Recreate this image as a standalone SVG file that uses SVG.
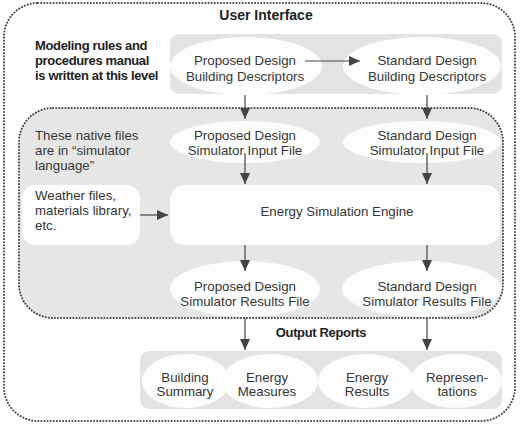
<svg xmlns="http://www.w3.org/2000/svg" width="521" height="430" viewBox="0 0 521 430">
<style>
.t{font-family:"Liberation Sans",Arial,sans-serif;font-size:13.3px;fill:#363636}
.c{text-anchor:middle}
.b{font-family:"Liberation Sans",Arial,sans-serif;font-size:13px;font-weight:bold;fill:#222;letter-spacing:-0.35px}
.dot{fill:none;stroke:#444;stroke-width:2;stroke-dasharray:0.1 3;stroke-linecap:round}
.band{fill:#e3e3e3}
.el{fill:#fdfdfd}
.box{fill:#fdfdfd}
.arr{stroke:#444;stroke-width:1.2;fill:none;marker-end:url(#ah)}
</style>
<defs>
<marker id="ah" markerUnits="userSpaceOnUse" markerWidth="12" markerHeight="10" refX="11" refY="5" orient="auto">
<path d="M0,0 L11,5 L0,10 Z" fill="#444"/>
</marker>
</defs>
<rect width="521" height="430" fill="#fff"/>
<g id="user-interface">
<rect class="dot" x="4" y="3" width="511" height="418" rx="34"/>
<text class="b c" x="266" y="20" style="font-size:14px;letter-spacing:0">User Interface</text>
</g>
<g id="simulator-area-fill">
<rect x="19" y="108" width="484" height="210" rx="34" fill="#e6e6e6"/>
</g>
<g id="top-band">
<rect class="band" x="170" y="34" width="332" height="60" rx="9"/>
</g>
<g id="output-band">
<rect class="band" x="140" y="351" width="362" height="58" rx="9"/>
</g>
<g id="modeling-note">
<text class="b" x="35" y="50">Modeling rules and</text>
<text class="b" x="35" y="65">procedures manual</text>
<text class="b" x="35" y="80">is written at this level</text>
</g>
<g id="proposed-descriptors">
<ellipse class="el" cx="246" cy="66" rx="76" ry="29"/>
<text class="t c" x="245" y="65">Proposed Design</text>
<text class="t c" x="245" y="81">Building Descriptors</text>
</g>
<g id="standard-descriptors">
<ellipse class="el" cx="422" cy="66" rx="79" ry="29"/>
<text class="t c" x="427" y="65">Standard Design</text>
<text class="t c" x="427" y="81">Building Descriptors</text>
</g>
<g id="native-note">
<text class="t" x="35" y="140">These native files</text>
<text class="t" x="35" y="155">are in “simulator</text>
<text class="t" x="35" y="170">language”</text>
</g>
<g id="proposed-input">
<ellipse class="el" cx="245" cy="142" rx="75" ry="21"/>
<text class="t c" x="245" y="140">Proposed Design</text>
<text class="t c" x="245" y="155">Simulator Input File</text>
</g>
<g id="standard-input">
<ellipse class="el" cx="422" cy="142" rx="79" ry="21"/>
<text class="t c" x="427" y="140">Standard Design</text>
<text class="t c" x="427" y="155">Simulator Input File</text>
</g>
<g id="weather">
<rect class="box" x="22" y="185" width="118" height="60" rx="13"/>
<text class="t" x="35" y="200">Weather files,</text>
<text class="t" x="35" y="215">materials library,</text>
<text class="t" x="35" y="230">etc.</text>
</g>
<g id="engine">
<rect class="box" x="170" y="185" width="330" height="60" rx="15"/>
<text class="t c" x="337" y="216">Energy Simulation Engine</text>
</g>
<g id="proposed-results">
<ellipse class="el" cx="245" cy="289" rx="75" ry="28"/>
<text class="t c" x="245" y="291">Proposed Design</text>
<text class="t c" x="245" y="306">Simulator Results File</text>
</g>
<g id="standard-results">
<ellipse class="el" cx="422" cy="289" rx="80" ry="28"/>
<text class="t c" x="427" y="291">Standard Design</text>
<text class="t c" x="427" y="306">Simulator Results File</text>
</g>
<g id="simulator-area-border">
<rect class="dot" x="19" y="108" width="484" height="210" rx="34"/>
</g>
<g id="output-reports-label">
<text class="b c" x="321" y="337">Output Reports</text>
</g>
<g id="building-summary">
<ellipse class="el" cx="186" cy="381" rx="44" ry="27"/>
<text class="t c" x="185" y="382">Building</text>
<text class="t c" x="185" y="396">Summary</text>
</g>
<g id="energy-measures">
<ellipse class="el" cx="270" cy="381" rx="48" ry="27"/>
<text class="t c" x="267" y="382">Energy</text>
<text class="t c" x="267" y="396">Measures</text>
</g>
<g id="energy-results">
<ellipse class="el" cx="366" cy="381" rx="48" ry="27"/>
<text class="t c" x="367" y="382">Energy</text>
<text class="t c" x="367" y="396">Results</text>
</g>
<g id="representations">
<ellipse class="el" cx="456" cy="381" rx="46" ry="27"/>
<text class="t c" x="457" y="382">Represen-</text>
<text class="t c" x="457" y="396">tations</text>
</g>
<g id="connectors">
<line class="arr" x1="305" y1="61" x2="360" y2="61"/>
<line class="arr" x1="245" y1="95" x2="245" y2="119"/>
<line class="arr" x1="427" y1="95" x2="427" y2="119"/>
<line class="arr" x1="245" y1="153" x2="245" y2="184"/>
<line class="arr" x1="427" y1="153" x2="427" y2="184"/>
<line class="arr" x1="140" y1="215" x2="168" y2="215"/>
<line class="arr" x1="245" y1="245" x2="245" y2="271"/>
<line class="arr" x1="427" y1="245" x2="427" y2="271"/>
<line class="arr" x1="245" y1="318" x2="245" y2="350"/>
<line class="arr" x1="427" y1="318" x2="427" y2="350"/>
</g>
</svg>
